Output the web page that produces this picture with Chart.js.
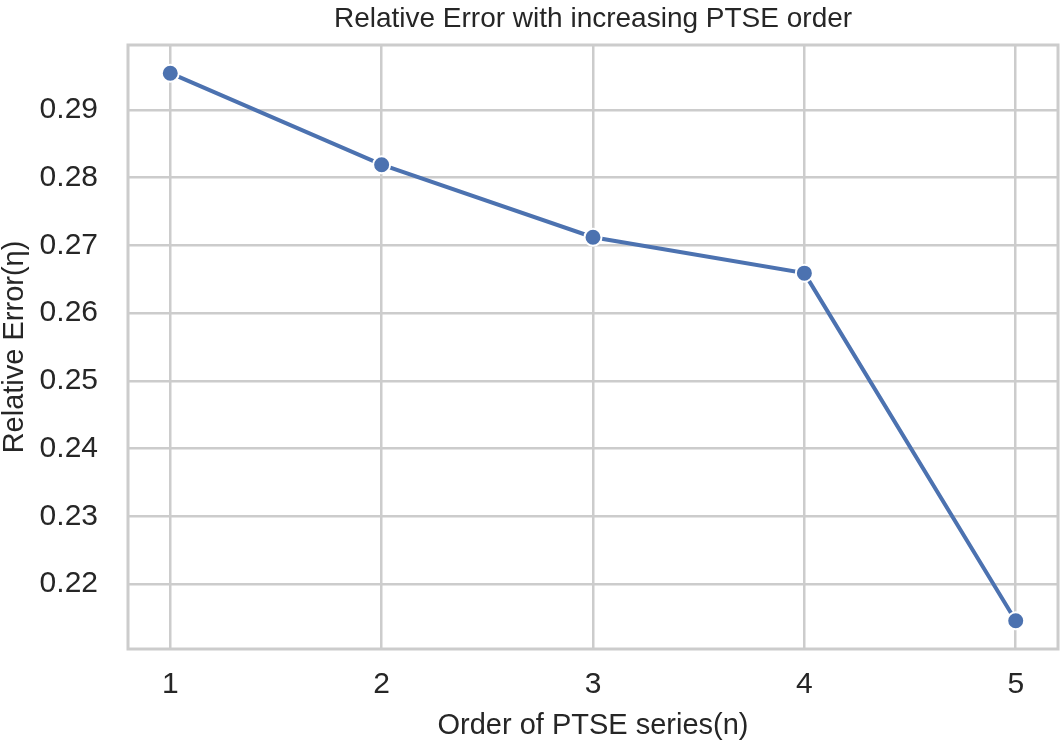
<!DOCTYPE html>
<html>
<head>
<meta charset="utf-8">
<script src="https://cdn.jsdelivr.net/npm/chart.js@4.4.1/dist/chart.umd.min.js"></script>
<style>
  html, body { margin: 0; padding: 0; background: #fff; overflow: hidden; }
  canvas { display: block; }
</style>
</head>
<body>
<canvas id="errChart" width="1064" height="742"></canvas>
<script>
// данные с графика
const orders = [1, 2, 3, 4, 5];
const relErrors = [0.2954, 0.2819, 0.2712, 0.2659, 0.2146];
const xTicks = [1, 2, 3, 4, 5];
const yTicks = [0.22, 0.23, 0.24, 0.25, 0.26, 0.27, 0.28, 0.29];
const chartTitle = 'Relative Error with increasing PTSE order';
const xTitle = 'Order of PTSE series(n)';
const yTitle = 'Relative Error(η)';

const FONT = '"Liberation Sans", Arial, sans-serif';
const TEXT = '#262626';
const GRID = '#cccccc';

// рамка вокруг области графика и заголовок по центру осей
const framePlugin = {
  id: 'frame',
  afterDraw(chart) {
    const { ctx, chartArea: a } = chart;
    ctx.save();
    ctx.strokeStyle = GRID;
    ctx.lineWidth = 3;
    ctx.strokeRect(a.left, a.top, a.right - a.left, a.bottom - a.top);
    ctx.fillStyle = TEXT;
    ctx.font = '28px ' + FONT;
    ctx.textAlign = 'center';
    ctx.textBaseline = 'middle';
    ctx.fillText(chartTitle, (a.left + a.right) / 2, 19);
    ctx.restore();
  }
};

const ctx = document.getElementById('errChart').getContext('2d');
new Chart(ctx, {
  type: 'line',
  data: {
    datasets: [{
      data: orders.map((o, i) => ({ x: o, y: relErrors[i] })),
      borderColor: '#4c72b0',
      borderWidth: 4,
      pointBackgroundColor: '#4c72b0',
      pointBorderColor: '#ffffff',
      pointBorderWidth: 2,
      pointRadius: 8.5,
      tension: 0
    }]
  },
  options: {
    responsive: false,
    animation: false,
    devicePixelRatio: 1,
    layout: { autoPadding: false, padding: { top: 45, right: 6, left: 0, bottom: 0 } },
    plugins: { legend: { display: false }, tooltip: { enabled: false } },
    scales: {
      x: {
        type: 'linear',
        min: 0.8,
        max: 5.2,
        afterFit: s => { s.height = 93; s.paddingLeft = 0; s.paddingRight = 0; },
        afterBuildTicks: s => { s.ticks = xTicks.map(v => ({ value: v })); },
        grid: { color: GRID, lineWidth: 2.5, drawTicks: false },
        border: { display: false },
        ticks: {
          color: TEXT,
          font: { family: FONT, size: 30, lineHeight: 1.2 },
          padding: 18,
          callback: v => String(v)
        },
        title: {
          display: true,
          text: xTitle,
          color: TEXT,
          font: { family: FONT, size: 29, lineHeight: 1 },
          padding: { top: 0, bottom: 1.5 }
        }
      },
      y: {
        type: 'linear',
        min: 0.21044,
        max: 0.29956,
        afterFit: s => { s.width = 128; s.paddingTop = 0; s.paddingBottom = 0; },
        afterBuildTicks: s => { s.ticks = yTicks.map(v => ({ value: v })); },
        grid: { color: GRID, lineWidth: 2.5, drawTicks: false },
        border: { display: false },
        ticks: {
          color: TEXT,
          font: { family: FONT, size: 30, lineHeight: 1.2 },
          padding: 30,
          callback: v => v.toFixed(2)
        },
        title: {
          display: true,
          text: yTitle,
          color: TEXT,
          font: { family: FONT, size: 29, lineHeight: 1 },
          padding: { top: 0, bottom: 0 }
        }
      }
    }
  },
  plugins: [framePlugin]
});
</script>
</body>
</html>
